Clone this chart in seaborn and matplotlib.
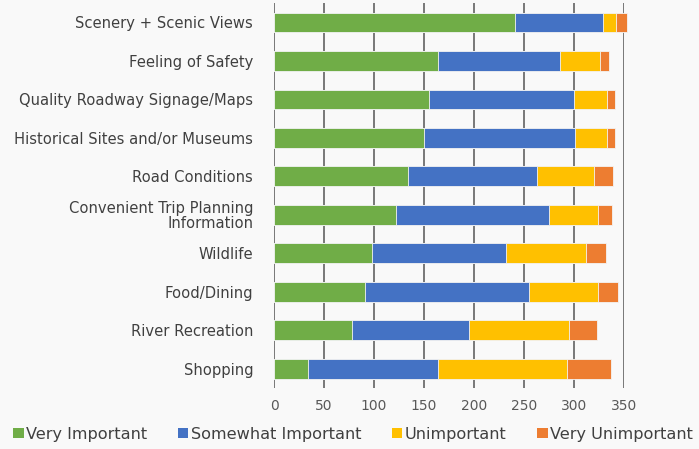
import matplotlib
matplotlib.use("Agg")
import matplotlib.pyplot as plt
from matplotlib.patches import Patch
import seaborn as sns
import pandas as pd
import numpy as np

categories = [
    "Scenery + Scenic Views",
    "Feeling of Safety",
    "Quality Roadway Signage/Maps",
    "Historical Sites and/or Museums",
    "Road Conditions",
    "Convenient Trip Planning\nInformation",
    "Wildlife",
    "Food/Dining",
    "River Recreation",
    "Shopping",
]
very_important = [241, 164, 155, 150, 134, 122, 98, 91, 78, 34]
somewhat_important = [88, 122, 145, 151, 129, 153, 134, 164, 117, 130]
unimportant = [13, 40, 33, 32, 57, 49, 80, 69, 100, 129]
very_unimportant = [11, 9, 8, 8, 19, 14, 20, 20, 28, 44]

series_names = ["Very Important", "Somewhat Important", "Unimportant", "Very Unimportant"]
colors = ["#70AD47", "#4472C4", "#FFC000", "#ED7D31"]
xticks = [0, 50, 100, 150, 200, 250, 300, 350]

df = pd.DataFrame({
    "category": categories,
    "Very Important": very_important,
    "Somewhat Important": somewhat_important,
    "Unimportant": unimportant,
    "Very Unimportant": very_unimportant,
})
cum = df[series_names].cumsum(axis=1)

sns.set_theme(style="white")
plt.rcParams["font.family"] = ["DejaVu Sans"]
text_color = "#404040"

fig = plt.figure(figsize=(6.99, 4.49), dpi=100, facecolor="#F9F9F9")
ax = fig.add_axes([0.392, 0.136, 0.501, 0.857])
ax.set_facecolor("#F9F9F9")

for name, color in reversed(list(zip(series_names, colors))):
    sns.barplot(data=pd.DataFrame({"category": categories, "value": cum[name]}),
                x="value", y="category", orient="h", color=color, width=0.51,
                edgecolor="#F4F4F4", linewidth=0.6, ax=ax, zorder=3, saturation=1)
for p in ax.patches:
    p.set_clip_on(False)

ax.set_xlim(0, 350)
ax.set_ylim(9.5, -0.5)
ax.set_xticks(xticks)
ax.set_xticklabels([str(t) for t in xticks], fontsize=10, color="#595959")
ax.tick_params(axis="y", labelsize=10.6, labelcolor=text_color, length=0, pad=15)
ax.tick_params(axis="x", length=0, pad=8)
for lab in ax.get_yticklabels():
    lab.set_linespacing(0.95)
ax.set_xlabel("")
ax.set_ylabel("")
for s in ax.spines.values():
    s.set_visible(False)
ax.grid(axis="x", color="#555555", linewidth=1.1, zorder=0)
ax.set_axisbelow(True)

handles = [Patch(facecolor=c, edgecolor="none") for c in colors]
fig.legend(handles, series_names, loc="center", bbox_to_anchor=(0.505, 0.033), ncol=4,
           frameon=False, fontsize=11.6, labelcolor=text_color, handlelength=0.65,
           handleheight=0.65, handletextpad=0.15, columnspacing=1.9)

fig.savefig("out.png", dpi=100, facecolor=fig.get_facecolor())
